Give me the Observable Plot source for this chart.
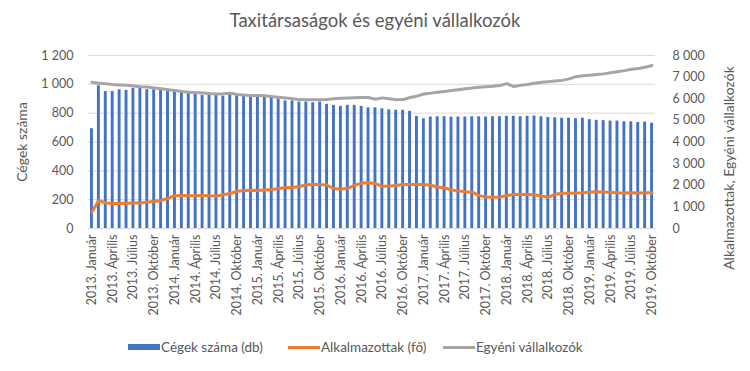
<!DOCTYPE html>
<html><head><meta charset="utf-8">
<script src="https://cdn.jsdelivr.net/npm/d3@7"></script>
<script src="https://cdn.jsdelivr.net/npm/@observablehq/plot@0.6"></script>
<style>
body{margin:0;background:#fff;font-family:Lato,"Open Sans",sans-serif;}
#wrap{position:relative;width:750px;height:371px;overflow:hidden;}
#title{position:absolute;top:9px;left:0;width:750px;text-align:center;font-size:18.5px;color:#595959;}
#chart{position:absolute;top:40px;left:0;}
.leg{position:absolute;top:340px;height:14px;font-size:13.5px;color:#595959;line-height:14px;white-space:nowrap;}
.sw{position:absolute;}
.atitle{position:absolute;width:300px;height:16px;line-height:16px;text-align:center;font-size:14px;color:#595959;transform:rotate(-90deg);white-space:nowrap;}
</style></head><body>
<div id="wrap">
<div id="title">Taxitársaságok és egyéni vállalkozók</div>
<div id="chart"></div>
<div id="ytitleL" class="atitle" style="left:-128px;top:134px;">Cégek száma</div>
<div id="ytitleR" class="atitle" style="left:579px;top:160px;">Alkalmazottak, Egyéni vállalkozók</div>
<div id="legend"></div>
</div>
<script>
const years = [2013, 2014, 2015, 2016, 2017, 2018, 2019];
const monthNames = ["Január","Február","Március","Április","Május","Június","Július","Augusztus","Szeptember","Október","November","December"];
// Cégek száma (db) — left axis
const cegek = [
 692, 990, 950, 950, 962, 958, 972, 972, 962, 962, 958, 955,
 955, 946, 935, 930, 923, 923, 923, 918, 939, 923, 918, 915,
 915, 910, 910, 900, 885, 885, 877, 877, 872, 877, 861, 854,
 847, 854, 854, 847, 837, 837, 830, 823, 820, 820, 812, 777,
 761, 773, 775, 775, 773, 773, 773, 775, 775, 773, 775, 775,
 778, 778, 775, 778, 780, 775, 770, 768, 765, 765, 762, 765,
 755, 750, 748, 745, 745, 740, 740, 735, 738, 730
];
// Alkalmazottak (fő) — right axis
const alkalmazottak = [
 760, 1300, 1180, 1160, 1160, 1170, 1180, 1180, 1220, 1260, 1300, 1400,
 1520, 1530, 1520, 1520, 1530, 1510, 1500, 1560, 1620, 1720, 1760, 1770,
 1760, 1780, 1800, 1850, 1900, 1900, 1940, 2020, 2040, 2040, 2000, 1850,
 1820, 1860, 2000, 2100, 2120, 2080, 1950, 1950, 2000, 2030, 2030, 2040,
 2030, 2000, 1920, 1880, 1780, 1740, 1700, 1680, 1520, 1460, 1450, 1460,
 1530, 1570, 1580, 1570, 1560, 1500, 1450, 1580, 1630, 1630, 1640, 1650,
 1680, 1700, 1690, 1670, 1650, 1640, 1650, 1640, 1650, 1650
];
// Egyéni vállalkozók — right axis
const egyeni = [
 6760, 6720, 6690, 6660, 6640, 6620, 6590, 6560, 6540, 6500, 6460, 6420,
 6380, 6340, 6300, 6290, 6270, 6240, 6220, 6230, 6260, 6200, 6170, 6150,
 6150, 6140, 6100, 6070, 6040, 6000, 5960, 5950, 5950, 5950, 5970, 6000,
 6020, 6040, 6050, 6060, 6060, 5980, 6040, 6000, 5950, 5960, 6060, 6120,
 6220, 6260, 6300, 6340, 6380, 6420, 6460, 6500, 6530, 6560, 6580, 6610,
 6700, 6560, 6620, 6660, 6720, 6760, 6790, 6820, 6850, 6920, 7020, 7060,
 7090, 7120, 7150, 7200, 7250, 7300, 7360, 7400, 7460, 7540
];
const leftTicks = [0, 200, 400, 600, 800, 1000, 1200];
const rightTicks = [0, 1000, 2000, 3000, 4000, 5000, 6000, 7000, 8000];
const seriesNames = ["Cégek száma (db)", "Alkalmazottak (fő)", "Egyéni vállalkozók"];
const colors = ["#4472c4", "#ed7d31", "#a5a5a5"];

const months = years.flatMap(y => monthNames.map(m => `${y}. ${m}`)).slice(0, cegek.length);
const rows = months.map((m, i) => ({m, ceg: cegek[i], alk: alkalmazottak[i], egy: egyeni[i]}));
const k = 1200 / 8000; // right axis -> left axis
const fmt = d3.formatLocale({decimal: ",", thousands: " ", grouping: [3], currency: ["", ""]}).format(",d");

const chart = Plot.plot({
  width: 750, height: 290,
  marginLeft: 88, marginRight: 95, marginTop: 15, marginBottom: 102,
  style: {fontFamily: "Lato, 'Open Sans', sans-serif", fontSize: "12px", color: "#595959", background: "#fff"},
  x: {type: "band", domain: months, paddingInner: 0.58, paddingOuter: 0.29, axis: null},
  y: {domain: [0, 1200], axis: null},
  marks: [
    Plot.gridY(leftTicks.slice(1), {stroke: "#d9d9d9", strokeOpacity: 1}),
    Plot.ruleY([0], {stroke: "#d9d9d9"}),
    Plot.barY(rows, {x: "m", y: "ceg", fill: colors[0]}),
    Plot.line(rows, {x: "m", y: d => d.alk * k, stroke: colors[1], strokeWidth: 3, strokeLinejoin: "round"}),
    Plot.line(rows, {x: "m", y: d => d.egy * k, stroke: colors[2], strokeWidth: 3, strokeLinejoin: "round"}),
    Plot.axisY(leftTicks, {anchor: "left", tickSize: 0, tickPadding: 15, tickFormat: fmt, label: null, fontSize: 12.5}),
    Plot.axisY(rightTicks.map(v => v * k), {anchor: "right", tickSize: 0, tickPadding: 17, tickFormat: d => fmt(Math.round(d / k)), label: null, fontSize: 12.5}),
    Plot.axisX(months.filter((d, i) => i % 3 === 0), {tickRotate: -90, tickSize: 0, tickPadding: 6, label: null, fontSize: 12.5})
  ]
});
document.getElementById("chart").appendChild(chart);

// legend
const legend = document.getElementById("legend");
const legPos = [128, 288, 443];
seriesNames.forEach((name, i) => {
  const item = document.createElement("div");
  item.className = "leg";
  item.style.left = legPos[i] + "px";
  const sw = document.createElement("span");
  sw.className = "sw";
  sw.style.left = "0px";
  sw.style.width = "32px";
  if (i === 0) { sw.style.top = "4px"; sw.style.height = "6px"; }
  else { sw.style.top = "6px"; sw.style.height = "3px"; }
  sw.style.background = colors[i];
  const t = document.createElement("span");
  t.textContent = name;
  t.style.marginLeft = "33px";
  item.appendChild(sw); item.appendChild(t);
  legend.appendChild(item);
});
</script>
</body></html>
